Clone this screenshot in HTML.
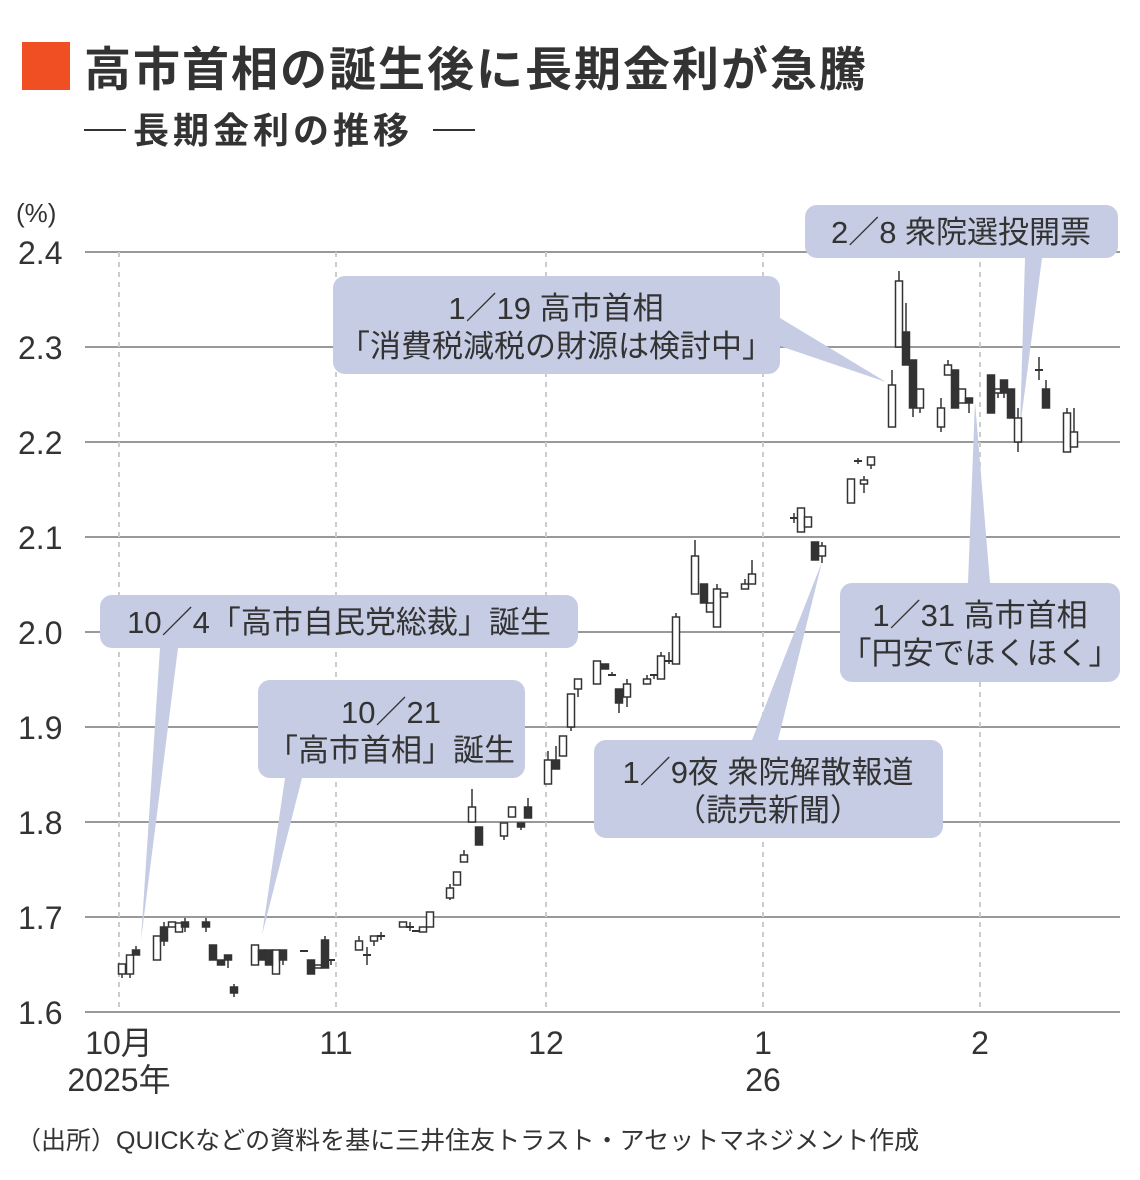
<!DOCTYPE html>
<html><head><meta charset="utf-8"><style>
body{margin:0;background:#fff}
svg{display:block;font-family:"Liberation Sans","Noto Sans CJK JP",sans-serif}
</style></head><body>
<svg width="1140" height="1180" viewBox="0 0 1140 1180" xmlns="http://www.w3.org/2000/svg">
<rect x="22" y="42" width="48" height="48" fill="#f04e23"/>
<text x="84" y="86" font-size="47" font-weight="bold" fill="#333" letter-spacing="2">高市首相の誕生後に長期金利が急騰</text>
<line x1="84" y1="130" x2="126" y2="130" stroke="#333" stroke-width="2"/>
<text x="133" y="143" font-size="36" font-weight="bold" fill="#333" letter-spacing="4">長期金利の推移</text>
<line x1="433" y1="130" x2="475" y2="130" stroke="#333" stroke-width="2"/>
<text x="16" y="222" font-size="26" fill="#333">(%)</text>
<g stroke="#999" stroke-width="2">
<line x1="85" y1="252" x2="1120" y2="252"/><line x1="85" y1="347" x2="1120" y2="347"/>
<line x1="85" y1="442" x2="1120" y2="442"/><line x1="85" y1="537" x2="1120" y2="537"/>
<line x1="85" y1="632" x2="1120" y2="632"/><line x1="85" y1="727" x2="1120" y2="727"/>
<line x1="85" y1="822" x2="1120" y2="822"/><line x1="85" y1="917" x2="1120" y2="917"/>
<line x1="85" y1="1012" x2="1120" y2="1012"/>
</g>
<g stroke="#ccc" stroke-width="2" stroke-dasharray="5,5">
<line x1="119" y1="252" x2="119" y2="1012"/><line x1="336" y1="252" x2="336" y2="1012"/>
<line x1="546" y1="252" x2="546" y2="1012"/><line x1="763" y1="252" x2="763" y2="1012"/>
<line x1="980" y1="252" x2="980" y2="1012"/>
</g>
<g font-size="32" fill="#333">
<text x="18" y="264">2.4</text><text x="18" y="359">2.3</text><text x="18" y="454">2.2</text>
<text x="18" y="549">2.1</text><text x="18" y="644">2.0</text><text x="18" y="739">1.9</text>
<text x="18" y="834">1.8</text><text x="18" y="929">1.7</text><text x="18" y="1024">1.6</text>
</g>
<g font-size="32" fill="#333" text-anchor="middle">
<text x="119" y="1054">10月</text><text x="119" y="1091">2025年</text>
<text x="336" y="1054">11</text><text x="546" y="1054">12</text>
<text x="763" y="1054">1</text><text x="763" y="1091">26</text><text x="980" y="1054">2</text>
</g>
<text x="16" y="1149" font-size="25" fill="#333">（出所）QUICKなどの資料を基に三井住友トラスト・アセットマネジメント作成</text>

<g fill="#c5cce3">
<rect x="100" y="595" width="478" height="53" rx="12"/>
<polygon points="160,648 178,648 141,940"/>
<rect x="258" y="680" width="267" height="98" rx="12"/>
<polygon points="285,778 302,778 262,935"/>
<rect x="333" y="276" width="447" height="98" rx="12"/>
<polygon points="780,318 780,346 886,382"/>
<rect x="805" y="205" width="313" height="53" rx="12"/>
<polygon points="1025,258 1042,258 1020,428"/>
<rect x="840" y="583" width="280" height="99" rx="12"/>
<polygon points="968,583 990,583 975,402"/>
<rect x="594" y="740" width="349" height="98" rx="12"/>
<polygon points="752,740 778,740 822,562"/>
</g>
<g font-size="31" fill="#333" text-anchor="middle">
<text x="339" y="633">10／4「高市自民党総裁」誕生</text>
<text x="391" y="723">10／21</text><text x="391" y="761">「高市首相」誕生</text>
<text x="556" y="319">1／19 高市首相</text><text x="556" y="357">「消費税減税の財源は検討中」</text>
<text x="961" y="243">2／8 衆院選投開票</text>
<text x="980" y="626">1／31 高市首相</text><text x="980" y="664">「円安でほくほく」</text>
<text x="768" y="783">1／9夜  衆院解散報道</text><text x="768" y="821">（読売新聞）</text>
</g>

<g stroke="#333" stroke-width="1.5">
<g fill="#fff">
<line x1="122" y1="964" x2="122" y2="978"/><rect x="118.5" y="964" width="7" height="10"/>
<line x1="130" y1="955" x2="130" y2="978"/><rect x="126.5" y="955" width="7" height="19"/>
<rect x="153.5" y="936" width="7" height="24"/>
<rect x="168.5" y="922" width="7" height="5"/>
<rect x="175.5" y="923" width="7" height="9"/>
<rect x="251.5" y="945" width="7" height="20"/>
<rect x="272.5" y="950" width="7" height="24"/>
<rect x="314.5" y="965" width="7" height="3"/>
<line x1="359" y1="936" x2="359" y2="950"/><rect x="355.5" y="941" width="7" height="9"/>
<line x1="374" y1="936" x2="374" y2="946"/><rect x="370.5" y="936" width="7" height="5"/>
<rect x="399.5" y="922" width="7" height="5"/>
<rect x="419.5" y="927" width="7" height="5"/>
<rect x="426.5" y="912" width="7" height="15"/>
<line x1="450" y1="884" x2="450" y2="900"/><rect x="446.5" y="888" width="7" height="10"/>
<rect x="453.5" y="872" width="7" height="13"/>
<line x1="464" y1="850" x2="464" y2="862"/><rect x="460.5" y="855" width="7" height="7"/>
<line x1="472" y1="789" x2="472" y2="822"/><rect x="468.5" y="807" width="7" height="15"/>
<line x1="504" y1="823" x2="504" y2="840"/><rect x="500.5" y="823" width="7" height="13"/>
<rect x="508.5" y="807" width="7" height="10"/>
<line x1="548" y1="751" x2="548" y2="784"/><rect x="544.5" y="760" width="7" height="24"/>
<rect x="559.5" y="736" width="7" height="20"/>
<line x1="571" y1="694" x2="571" y2="731"/><rect x="567.5" y="694" width="7" height="33"/>
<line x1="578" y1="679" x2="578" y2="697"/><rect x="574.5" y="679" width="7" height="10"/>
<rect x="593.5" y="661" width="7" height="23"/>
<line x1="627" y1="679" x2="627" y2="707"/><rect x="623.5" y="684" width="7" height="13"/>
<line x1="647" y1="675" x2="647" y2="684"/><rect x="643.5" y="679" width="7" height="5"/>
<line x1="661" y1="652" x2="661" y2="679"/><rect x="657.5" y="656" width="7" height="23"/>
<line x1="676" y1="613" x2="676" y2="664"/><rect x="672.5" y="617" width="7" height="47"/>
<line x1="695" y1="540" x2="695" y2="594"/><rect x="691.5" y="556" width="7" height="38"/>
<rect x="706.5" y="603" width="7" height="9"/>
<line x1="717" y1="584" x2="717" y2="627"/><rect x="713.5" y="589" width="7" height="38"/>
<rect x="720.5" y="593" width="7" height="4"/>
<line x1="745" y1="579" x2="745" y2="589"/><rect x="741.5" y="584" width="7" height="5"/>
<line x1="752" y1="560" x2="752" y2="584"/><rect x="748.5" y="574" width="7" height="10"/>
<rect x="797.5" y="508" width="7" height="24"/>
<rect x="804.5" y="517" width="7" height="10"/>
<line x1="822" y1="542" x2="822" y2="563"/><rect x="818.5" y="546" width="7" height="10"/>
<rect x="847.5" y="479" width="7" height="24"/>
<line x1="864" y1="476" x2="864" y2="493"/><rect x="860.5" y="480" width="7" height="4"/>
<line x1="871" y1="457" x2="871" y2="469"/><rect x="867.5" y="457" width="7" height="8"/>
<line x1="892" y1="370" x2="892" y2="427"/><rect x="888.5" y="385" width="7" height="42"/>
<line x1="899" y1="271" x2="899" y2="347"/><rect x="895.5" y="281" width="7" height="66"/>
<line x1="920" y1="389" x2="920" y2="413"/><rect x="916.5" y="389" width="7" height="19"/>
<line x1="941" y1="398" x2="941" y2="432"/><rect x="937.5" y="408" width="7" height="19"/>
<line x1="948" y1="360" x2="948" y2="375"/><rect x="944.5" y="365" width="7" height="10"/>
<rect x="958.5" y="389" width="7" height="14"/>
<line x1="998" y1="389" x2="998" y2="398"/><rect x="994.5" y="389" width="7" height="4"/>
<line x1="1018" y1="408" x2="1018" y2="452"/><rect x="1014.5" y="418" width="7" height="24"/>
<line x1="1067" y1="408" x2="1067" y2="452"/><rect x="1063.5" y="413" width="7" height="39"/>
<line x1="1074" y1="408" x2="1074" y2="447"/><rect x="1070.5" y="432" width="7" height="15"/>
</g>
<g fill="#333">
<line x1="136" y1="946" x2="136" y2="955"/><rect x="132.5" y="950" width="7" height="5"/>
<line x1="164" y1="922" x2="164" y2="946"/><rect x="160.5" y="927" width="7" height="14"/>
<line x1="185" y1="918" x2="185" y2="932"/><rect x="181.5" y="922" width="7" height="5"/>
<line x1="206" y1="918" x2="206" y2="932"/><rect x="202.5" y="922" width="7" height="5"/>
<rect x="209.5" y="945" width="7" height="15"/>
<rect x="217.5" y="960" width="7" height="5"/>
<line x1="228" y1="955" x2="228" y2="968"/><rect x="224.5" y="955" width="7" height="5"/>
<line x1="234" y1="984" x2="234" y2="997"/><rect x="230.5" y="987" width="7" height="6"/>
<rect x="258.5" y="950" width="7" height="10"/>
<rect x="265.5" y="950" width="7" height="15"/>
<line x1="283" y1="950" x2="283" y2="965"/><rect x="279.5" y="950" width="7" height="10"/>
<line x1="300" y1="951" x2="308" y2="951" stroke-width="2"/>
<rect x="307.5" y="960" width="7" height="14"/>
<line x1="325" y1="936" x2="325" y2="968"/><rect x="321.5" y="940" width="7" height="28"/>
<line x1="331" y1="960" x2="331" y2="965"/><line x1="327" y1="960" x2="335" y2="960" stroke-width="2"/>
<line x1="367" y1="947" x2="367" y2="965"/><line x1="363" y1="955" x2="371" y2="955" stroke-width="2"/>
<line x1="381" y1="932" x2="381" y2="940"/><line x1="377" y1="936" x2="385" y2="936" stroke-width="2"/>
<line x1="410" y1="922" x2="410" y2="931"/><line x1="406" y1="927" x2="414" y2="927" stroke-width="2"/>
<line x1="412" y1="931" x2="420" y2="931" stroke-width="2"/>
<rect x="475.5" y="827" width="7" height="18"/>
<line x1="521" y1="823" x2="521" y2="830"/><rect x="517.5" y="823" width="7" height="4"/>
<line x1="528" y1="798" x2="528" y2="818"/><rect x="524.5" y="807" width="7" height="11"/>
<line x1="556" y1="746" x2="556" y2="769"/><rect x="552.5" y="760" width="7" height="9"/>
<rect x="601.5" y="664" width="7" height="5"/>
<line x1="612" y1="672" x2="612" y2="675"/><line x1="608" y1="675" x2="616" y2="675" stroke-width="2"/>
<line x1="619" y1="689" x2="619" y2="713"/><rect x="615.5" y="689" width="7" height="14"/>
<line x1="654" y1="675" x2="654" y2="679"/><line x1="650" y1="675" x2="658" y2="675" stroke-width="2"/>
<line x1="669" y1="652" x2="669" y2="664"/><line x1="665" y1="661" x2="673" y2="661" stroke-width="2"/>
<rect x="700.5" y="584" width="7" height="19"/>
<line x1="794" y1="513" x2="794" y2="523"/><line x1="790" y1="518" x2="798" y2="518" stroke-width="2"/>
<rect x="811.5" y="542" width="7" height="18"/>
<line x1="858" y1="458" x2="858" y2="464"/><line x1="854" y1="461" x2="862" y2="461" stroke-width="2"/>
<line x1="906" y1="303" x2="906" y2="365"/><rect x="902.5" y="332" width="7" height="33"/>
<line x1="913" y1="360" x2="913" y2="417"/><rect x="909.5" y="360" width="7" height="48"/>
<rect x="951.5" y="370" width="7" height="38"/>
<line x1="969" y1="398" x2="969" y2="413"/><rect x="965.5" y="398" width="7" height="5"/>
<rect x="987.5" y="375" width="7" height="38"/>
<line x1="1004" y1="380" x2="1004" y2="398"/><rect x="1000.5" y="380" width="7" height="13"/>
<rect x="1007.5" y="389" width="7" height="29"/>
<line x1="1039" y1="357" x2="1039" y2="380"/><line x1="1035" y1="370" x2="1043" y2="370" stroke-width="2"/>
<line x1="1046" y1="380" x2="1046" y2="408"/><rect x="1042.5" y="389" width="7" height="19"/>
</g>
</g>
</svg>
</body></html>
